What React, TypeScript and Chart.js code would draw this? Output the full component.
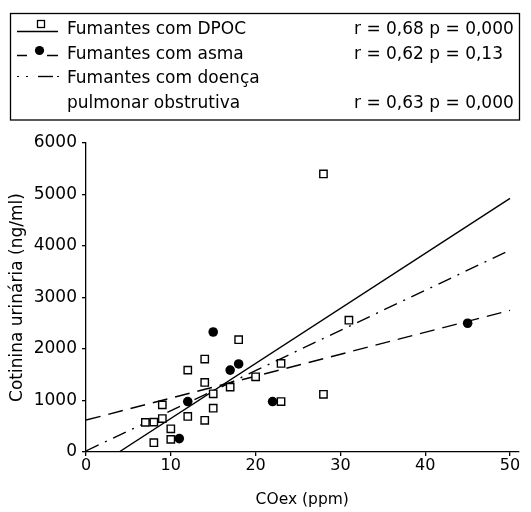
import React, { useEffect, useRef } from "react";
import { Chart, registerables } from "chart.js";

Chart.register(...registerables);

// Fumantes com DPOC (open squares)
const copdX = [7, 8, 8, 9, 9, 10, 10, 12, 12, 14, 14, 14, 15, 15, 17, 18, 20, 23, 23, 28, 28, 31];
const copdY = [575, 580, 180, 915, 650, 450, 245, 1590, 690, 1805, 1350, 615, 1130, 850, 1260, 2180, 1460, 1720, 980, 5400, 1120, 2560];

// Fumantes com asma (filled circles)
const asthmaX = [11, 12, 15, 17, 18, 22, 45];
const asthmaY = [260, 980, 2330, 1590, 1710, 980, 2500];

// Regression lines (end points)
const copdFitX = [3.9, 50];
const copdFitY = [0, 4925];
const asthmaFitX = [0, 50];
const asthmaFitY = [620, 2750];
const allFitX = [0, 50];
const allFitY = [20, 3920];

const xTicks = [0, 10, 20, 30, 40, 50];
const yTicks = [0, 1000, 2000, 3000, 4000, 5000, 6000];

const legendLabels = [
  "Fumantes com DPOC",
  "Fumantes com asma",
  "Fumantes com doença",
  "pulmonar obstrutiva",
];
const legendStats = ["r = 0,68 p = 0,000", "r = 0,62 p = 0,13", "", "r = 0,63 p = 0,000"];

const FONT = "'DejaVu Sans', sans-serif";

const pts = (xs: number[], ys: number[]) => xs.map((x, i) => ({ x, y: ys[i] }));

const legendPlugin = {
  id: "customLegend",
  afterDraw(chart: any) {
    const ctx = chart.ctx as CanvasRenderingContext2D;
    ctx.save();
    ctx.strokeStyle = "#000";
    ctx.fillStyle = "#000";
    ctx.lineWidth = 1.3;
    ctx.strokeRect(10.5, 13.5, 509, 106.5);

    const baselines = [34, 58.5, 83, 107.5];
    ctx.font = "17px " + FONT;
    ctx.textBaseline = "alphabetic";
    ctx.textAlign = "left";
    legendLabels.forEach((t, i) => ctx.fillText(t, 67, baselines[i]));
    legendStats.forEach((t, i) => {
      if (t) ctx.fillText(t, 354, baselines[i]);
    });

    // row 1: solid line + open square
    ctx.lineWidth = 1.3;
    ctx.beginPath();
    ctx.moveTo(17, 31.5);
    ctx.lineTo(58, 31.5);
    ctx.stroke();
    ctx.fillStyle = "#fff";
    ctx.fillRect(37.5, 20.5, 7, 7);
    ctx.strokeRect(37.5, 20.5, 7, 7);

    // row 2: dashes + filled circle
    ctx.fillStyle = "#000";
    ctx.beginPath();
    ctx.moveTo(17, 55.5);
    ctx.lineTo(27, 55.5);
    ctx.moveTo(47, 55.5);
    ctx.lineTo(58, 55.5);
    ctx.stroke();
    ctx.beginPath();
    ctx.arc(39.5, 50.5, 4.6, 0, Math.PI * 2);
    ctx.fill();

    // row 3: dash-dot
    ctx.lineWidth = 1;
    ctx.beginPath();
    ctx.moveTo(17, 76.5);
    ctx.lineTo(19, 76.5);
    ctx.moveTo(26, 76.5);
    ctx.lineTo(28, 76.5);
    ctx.moveTo(57, 76.5);
    ctx.lineTo(59, 76.5);
    ctx.stroke();
    ctx.lineWidth = 1.4;
    ctx.beginPath();
    ctx.moveTo(38, 76.5);
    ctx.lineTo(53, 76.5);
    ctx.stroke();
    ctx.restore();
  },
};

export default function App() {
  const ref = useRef<HTMLCanvasElement | null>(null);

  useEffect(() => {
    document.body.style.margin = "0";
    const canvas = ref.current;
    if (!canvas) return;
    const chart = new Chart(canvas, {
      type: "scatter",
      data: {
        datasets: [
          {
            label: "Fumantes com DPOC",
            data: pts(copdX, copdY),
            pointStyle: "rect",
            pointRadius: 5.2,
            pointBackgroundColor: "#fff",
            pointBorderColor: "#000",
            pointBorderWidth: 1.4,
            showLine: false,
            order: 0,
          },
          {
            label: "Fumantes com asma",
            data: pts(asthmaX, asthmaY),
            pointStyle: "circle",
            pointRadius: 4.8,
            pointBackgroundColor: "#000",
            pointBorderColor: "#000",
            pointBorderWidth: 0,
            showLine: false,
            order: 0,
          },
          {
            label: "DPOC fit",
            data: pts(copdFitX, copdFitY),
            showLine: true,
            borderColor: "#000",
            borderWidth: 1.4,
            pointRadius: 0,
            order: 1,
          },
          {
            label: "asma fit",
            data: pts(asthmaFitX, asthmaFitY),
            showLine: true,
            borderColor: "#000",
            borderWidth: 1.4,
            borderDash: [15, 8],
            pointRadius: 0,
            order: 1,
          },
          {
            label: "doença pulmonar obstrutiva fit",
            data: pts(allFitX, allFitY),
            showLine: true,
            borderColor: "#000",
            borderWidth: 1.4,
            borderDash: [14, 7, 2, 7],
            pointRadius: 0,
            order: 1,
          },
        ],
      },
      options: {
        responsive: false,
        maintainAspectRatio: false,
        animation: false,
        events: [],
        layout: { padding: { left: 0, right: 12.5, top: 143, bottom: 0 } },
        plugins: { legend: { display: false }, tooltip: { enabled: false } },
        scales: {
          x: {
            type: "linear",
            min: 0,
            max: 51,
            afterBuildTicks: (s: any) => {
              s.ticks = xTicks.map((v) => ({ value: v }));
            },
            ticks: {
              color: "#000",
              font: { family: FONT, size: 16 },
              padding: 0,
              maxRotation: 0,
              autoSkip: false,
              callback: (v: any) => String(v),
            },
            grid: {
              drawOnChartArea: false,
              drawTicks: true,
              tickLength: 4,
              color: "#000",
              lineWidth: 1.3,
            },
            border: { display: true, color: "#000", width: 1.3 },
            title: {
              display: true,
              text: "COex (ppm)",
              color: "#000",
              font: { family: FONT, size: 15.5 },
              padding: { top: 0, bottom: 3 },
            },
            afterFit: (s: any) => {
              s.height = 60;
            },
          },
          y: {
            type: "linear",
            min: 0,
            max: 6000,
            afterBuildTicks: (s: any) => {
              s.ticks = yTicks.map((v) => ({ value: v }));
            },
            ticks: {
              color: "#000",
              font: { family: FONT, size: 17 },
              padding: 5,
              autoSkip: false,
              callback: (v: any) => String(v),
            },
            grid: {
              drawOnChartArea: false,
              drawTicks: true,
              tickLength: 4,
              color: "#000",
              lineWidth: 1.3,
            },
            border: { display: true, color: "#000", width: 1.3 },
            title: {
              display: true,
              text: "Cotinina urinária (ng/ml)",
              color: "#000",
              font: { family: FONT, size: 17 },
              padding: { top: 7, bottom: 0 },
            },
            afterFit: (s: any) => {
              s.width = 86;
            },
          },
        },
      },
      plugins: [legendPlugin],
    });
    return () => chart.destroy();
  }, []);

  return (
    <div style={{ width: 531, height: 512, background: "#fff" }}>
      <canvas ref={ref} width={531} height={512} style={{ display: "block" }} />
    </div>
  );
}
